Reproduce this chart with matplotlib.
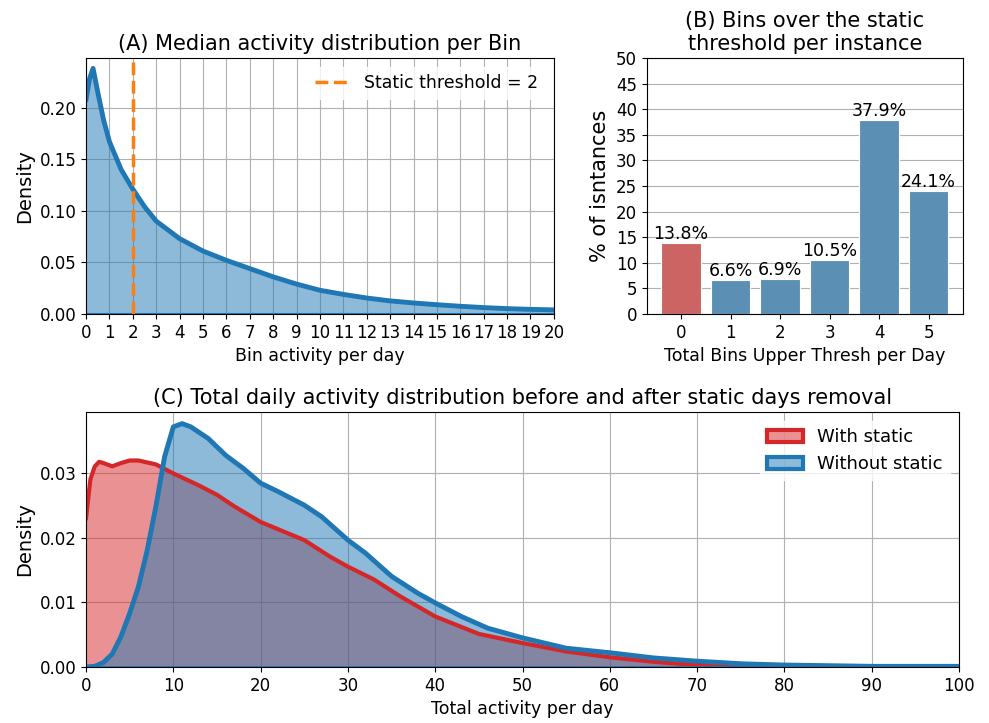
import matplotlib
matplotlib.use('Agg')
import matplotlib.pyplot as plt
from matplotlib.patches import Patch
import numpy as np

# (A) median activity per bin, density curve
bin_x = [0, 0.15, 0.3, 0.5, 0.75, 1, 1.5, 2, 2.5, 3, 4, 5, 6, 7, 8, 9, 10,
         11, 12, 13, 14, 15, 16, 17, 18, 19, 20]
bin_density = [0.208, 0.228, 0.238, 0.215, 0.188, 0.167, 0.140, 0.121, 0.104,
               0.090, 0.073, 0.061, 0.052, 0.044, 0.036, 0.029, 0.023, 0.019,
               0.0155, 0.0127, 0.0107, 0.009, 0.0075, 0.0062, 0.0052, 0.0045,
               0.004]
threshold = 2

# (B) bins over the static threshold per instance
bins_over = ['0', '1', '2', '3', '4', '5']
pct_instances = [13.8, 6.6, 6.9, 10.5, 37.9, 24.1]

# (C) total daily activity, with and without static days
with_x = [0, 0.5, 1, 1.5, 2, 3, 4, 5, 6, 8, 10, 13, 15, 17, 20, 25, 28, 30,
          33, 36, 40, 45, 50, 55, 60, 65, 70, 75, 80, 90, 100]
with_density = [0.023, 0.029, 0.031, 0.0317, 0.0315, 0.031, 0.0315, 0.0319,
                0.0319, 0.0313, 0.0299, 0.028, 0.0266, 0.0248, 0.0224, 0.0196,
                0.017, 0.0155, 0.0135, 0.0109, 0.0078, 0.0051, 0.0037, 0.0024,
                0.0015, 0.0008, 0.0003, 0.0002, 0.0001, 0.00005, 0.0]
without_x = [0, 1, 2, 3, 4, 5, 6, 7, 8, 9, 10, 11, 12, 14, 16, 18, 20, 22, 25,
             27, 30, 32, 35, 38, 40, 43, 46, 50, 55, 60, 65, 70, 75, 80, 90,
             100]
without_density = [0.0, 0.0001, 0.0007, 0.002, 0.0047, 0.0083, 0.0124, 0.018,
                   0.0248, 0.0325, 0.0371, 0.0376, 0.0371, 0.0353, 0.0327,
                   0.0307, 0.0284, 0.0271, 0.025, 0.0232, 0.0196, 0.0176,
                   0.014, 0.0114, 0.0099, 0.0078, 0.006, 0.0045, 0.0029,
                   0.0022, 0.0014, 0.0009, 0.0005, 0.0003, 0.0001, 0.0001]

plt.rcParams['font.size'] = 12
plt.rcParams['axes.labelsize'] = 12.5

fig = plt.figure(figsize=(9.89, 7.23), dpi=100)
ax_a = fig.add_axes([0.087, 0.5657, 0.473, 0.354])
ax_b = fig.add_axes([0.654, 0.5657, 0.3195, 0.354])
ax_c = fig.add_axes([0.087, 0.0775, 0.8827, 0.3527])

# --- (A)
ax_a.fill_between(bin_x, bin_density, color='tab:blue', alpha=0.5, lw=0)
ax_a.plot(bin_x, bin_density, color='tab:blue', lw=3.5)
ax_a.axhline(0, color='tab:blue', lw=1.5)
ax_a.axvline(threshold, color='tab:orange', ls='--', lw=2.5,
             label=f'Static threshold = {threshold}')
ax_a.set_xlim(0, 20)
ax_a.set_ylim(0, 0.248)
ax_a.set_xticks(range(0, 21))
ax_a.set_yticks([0, 0.05, 0.10, 0.15, 0.20])
ax_a.grid(True)
ax_a.set_axisbelow(True)
ax_a.set_xlabel('Bin activity per day')
ax_a.set_ylabel('Density', fontsize=14)
ax_a.set_title('(A) Median activity distribution per Bin', fontsize=15)
ax_a.legend(loc='upper right', edgecolor='white', framealpha=0.8, fontsize=12.5)

# --- (B)
bar_colors = ['#cd6464'] + ['#5b90b4'] * (len(bins_over) - 1)
bars = ax_b.bar(bins_over, pct_instances, width=0.8, color=bar_colors,
                edgecolor='white', lw=0.8)
for rect, v in zip(bars, pct_instances):
    ax_b.text(rect.get_x() + rect.get_width() / 2, v, f'{v}%',
              ha='center', va='bottom', fontsize=12.5)
ax_b.set_ylim(0, 50)
ax_b.set_yticks(range(0, 51, 5))
ax_b.grid(True, axis='y')
ax_b.set_axisbelow(True)
ax_b.set_xlabel('Total Bins Upper Thresh per Day')
ax_b.set_ylabel('% of isntances', fontsize=15)
ax_b.set_title('(B) Bins over the static\nthreshold per instance', fontsize=15)

# --- (C)
ax_c.fill_between(with_x, with_density, color='tab:red', alpha=0.5, lw=0)
ax_c.plot(with_x, with_density, color='tab:red', lw=3)
ax_c.fill_between(without_x, without_density, color='tab:blue', alpha=0.5, lw=0)
ax_c.plot(without_x, without_density, color='tab:blue', lw=3.5)
ax_c.axhline(0, color='tab:blue', lw=2)
ax_c.set_xlim(0, 100)
ax_c.set_ylim(0, 0.0394)
ax_c.set_xticks(range(0, 101, 10))
ax_c.set_yticks([0, 0.01, 0.02, 0.03])
ax_c.grid(True)
ax_c.set_axisbelow(True)
ax_c.set_xlabel('Total activity per day')
ax_c.set_ylabel('Density', fontsize=14)
ax_c.set_title('(C) Total daily activity distribution before and after static days removal',
               fontsize=15)
handles = [Patch(facecolor=(0.84, 0.15, 0.16, 0.5), edgecolor='tab:red', lw=3,
                 label='With static'),
           Patch(facecolor=(0.12, 0.47, 0.71, 0.5), edgecolor='tab:blue', lw=3,
                 label='Without static')]
ax_c.legend(handles=handles, loc='upper right', edgecolor='white',
            framealpha=0.8, fontsize=13)

fig.savefig('out.png', dpi=100)
